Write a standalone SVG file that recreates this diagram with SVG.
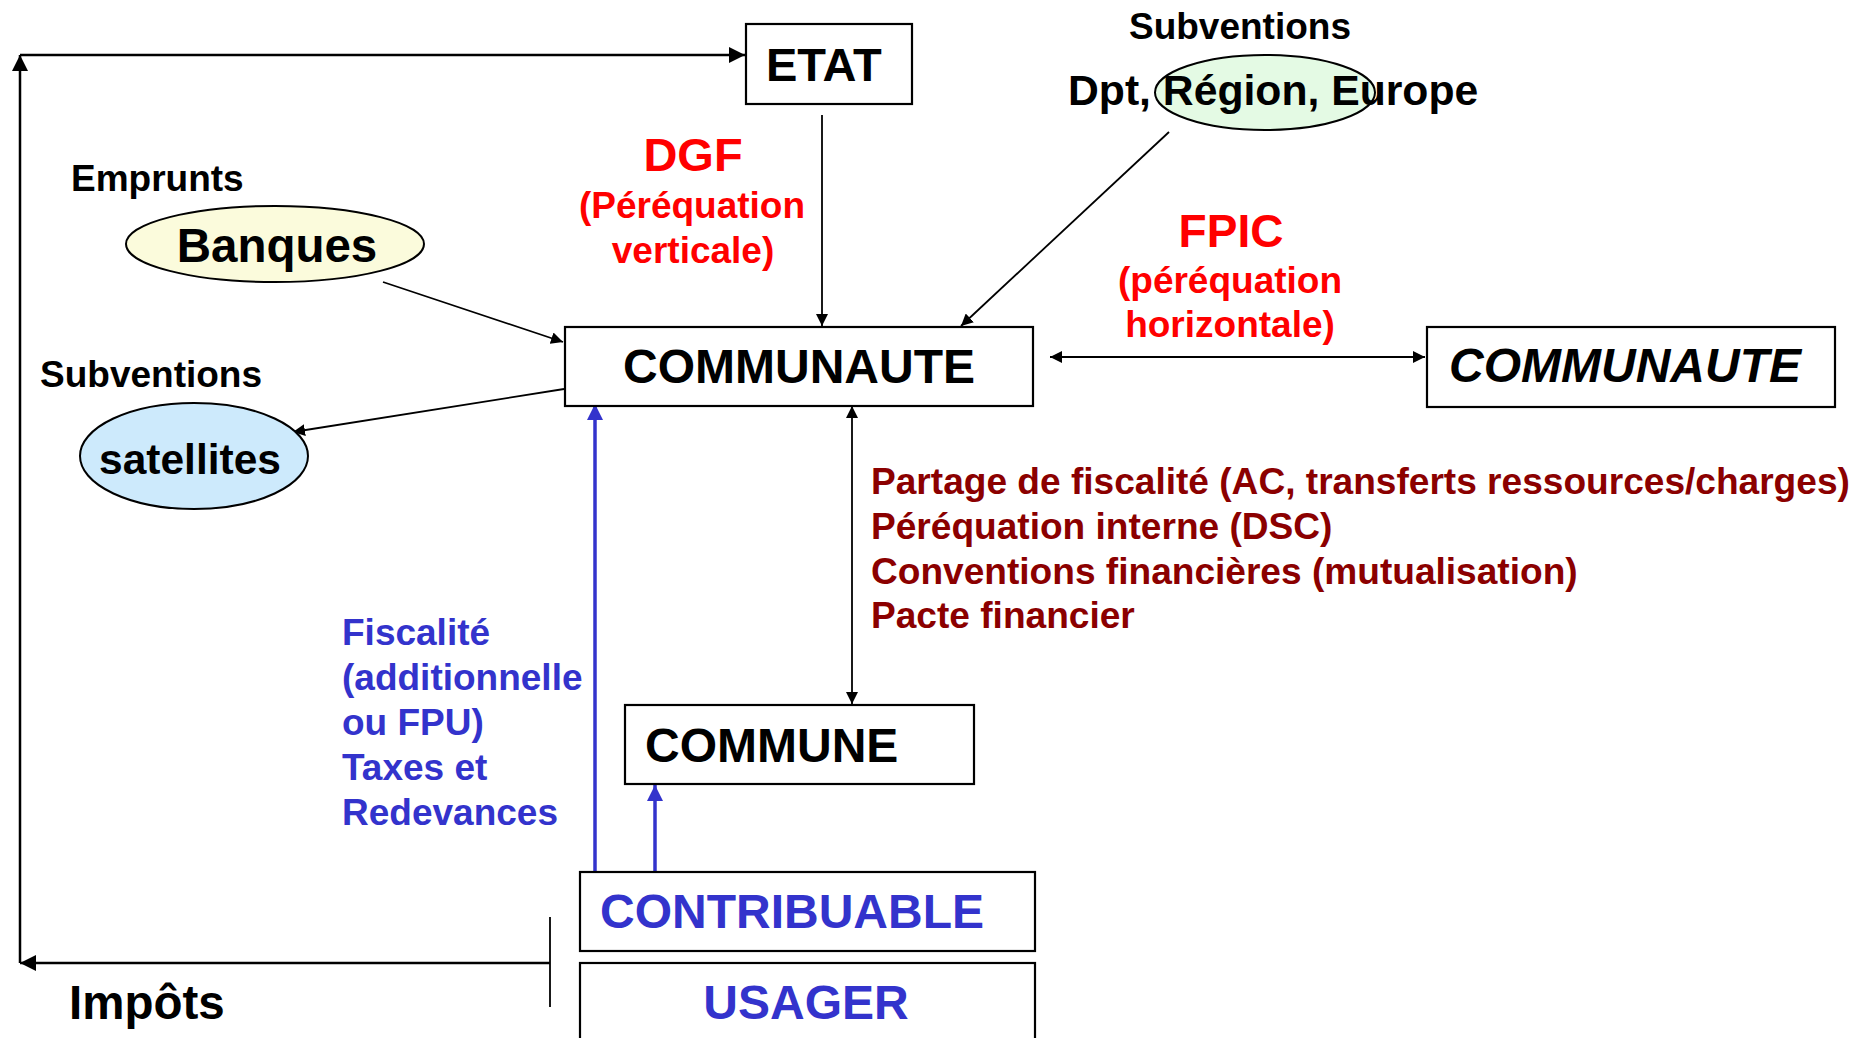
<svg xmlns="http://www.w3.org/2000/svg" width="1876" height="1038" viewBox="0 0 1876 1038">
<defs>
<style>
text{font-family:"Liberation Sans",Arial,sans-serif;font-weight:bold}
.box{fill:#fff;stroke:#000;stroke-width:2.2}
.k{fill:#000}
.red{fill:#ff0000}
.dred{fill:#8b0000}
.blue{fill:#3333cc}
.ln{stroke:#000;stroke-width:1.8;fill:none}
.lnb{stroke:#000;stroke-width:2.5;fill:none}
.bl{stroke:#3333cc;stroke-width:3.5;fill:none}
</style>
<marker id="aL" markerUnits="userSpaceOnUse" markerWidth="17" markerHeight="16" refX="16" refY="8" orient="auto-start-reverse"><path d="M0,0 L16,8 L0,16 Z" fill="#000"/></marker>
<marker id="aS" markerUnits="userSpaceOnUse" markerWidth="13" markerHeight="12" refX="12" refY="6" orient="auto-start-reverse"><path d="M0,0 L12,6 L0,12 Z" fill="#000"/></marker>
<marker id="aB" markerUnits="userSpaceOnUse" markerWidth="17" markerHeight="16" refX="16" refY="8" orient="auto-start-reverse"><path d="M0,0 L16,8 L0,16 Z" fill="#3333cc"/></marker>
</defs>
<rect width="1876" height="1038" fill="#fff"/>

<g id="connectors">
<line class="lnb" x1="20" y1="963" x2="20" y2="55" marker-end="url(#aL)"/>
<line class="lnb" x1="20" y1="55" x2="745" y2="55" marker-end="url(#aL)"/>
<line class="lnb" x1="550" y1="963" x2="20" y2="963" marker-end="url(#aL)"/>
<line class="ln" x1="550" y1="917" x2="550" y2="1007"/>
<line class="ln" x1="822" y1="115" x2="822" y2="326" marker-end="url(#aS)"/>
<line class="ln" x1="1169" y1="132" x2="961" y2="326" marker-end="url(#aS)"/>
<line class="ln" x1="383" y1="282" x2="563" y2="342" marker-end="url(#aS)"/>
<line class="ln" x1="564" y1="389" x2="293" y2="432" marker-end="url(#aS)"/>
<line class="ln" x1="1050" y1="357" x2="1425" y2="357" marker-start="url(#aS)" marker-end="url(#aS)"/>
<line class="ln" x1="852" y1="406" x2="852" y2="704" marker-start="url(#aS)" marker-end="url(#aS)"/>
<line class="bl" x1="595" y1="872" x2="595" y2="404" marker-end="url(#aB)"/>
<line class="bl" x1="655" y1="872" x2="655" y2="785" marker-end="url(#aB)"/>
</g>

<g id="etat">
<rect class="box" x="746" y="24" width="166" height="80"/>
<text class="k" x="766" y="81" font-size="47">ETAT</text>
</g>

<g id="dgf">
<text class="red" x="693" y="171" font-size="47" text-anchor="middle">DGF</text>
<text class="red" x="692" y="218" font-size="37" text-anchor="middle">(Péréquation</text>
<text class="red" x="693" y="263" font-size="37" text-anchor="middle">verticale)</text>
</g>

<g id="region">
<text class="k" x="1240" y="39" font-size="37" text-anchor="middle">Subventions</text>
<ellipse cx="1265" cy="92.5" rx="110" ry="37.5" fill="#e4fae4" stroke="#000" stroke-width="2"/>
<text class="k" x="1068" y="105" font-size="42.7">Dpt, Région, Europe</text>
</g>

<g id="banques">
<text class="k" x="71" y="191" font-size="37">Emprunts</text>
<ellipse cx="275" cy="244" rx="149" ry="38" fill="#fbfbdc" stroke="#000" stroke-width="2"/>
<text class="k" x="277" y="262" font-size="47.5" text-anchor="middle">Banques</text>
</g>

<g id="fpic">
<text class="red" x="1231" y="247" font-size="46" text-anchor="middle">FPIC</text>
<text class="red" x="1230" y="293" font-size="37" text-anchor="middle">(péréquation</text>
<text class="red" x="1230" y="337" font-size="37" text-anchor="middle">horizontale)</text>
</g>

<g id="communaute">
<rect class="box" x="565" y="327" width="468" height="79"/>
<text class="k" x="799" y="383" font-size="48" text-anchor="middle">COMMUNAUTE</text>
</g>

<g id="communaute2">
<rect class="box" x="1427" y="327" width="408" height="80"/>
<text class="k" x="1625" y="382" font-size="48" font-style="italic" text-anchor="middle">COMMUNAUTE</text>
</g>

<g id="satellites">
<text class="k" x="40" y="387" font-size="37">Subventions</text>
<ellipse cx="194" cy="456" rx="114" ry="53" fill="#cdeafc" stroke="#000" stroke-width="2"/>
<text class="k" x="190" y="474" font-size="42.5" text-anchor="middle">satellites</text>
</g>

<g id="relations">
<text class="dred" x="871" y="494" font-size="37.1">Partage de fiscalité (AC, transferts ressources/charges)</text>
<text class="dred" x="871" y="539" font-size="37.1">Péréquation interne (DSC)</text>
<text class="dred" x="871" y="584" font-size="37.1">Conventions financières (mutualisation)</text>
<text class="dred" x="871" y="628" font-size="37.1">Pacte financier</text>
</g>

<g id="fiscalite">
<text class="blue" x="342" y="645" font-size="37">Fiscalité</text>
<text class="blue" x="342" y="690" font-size="37">(additionnelle</text>
<text class="blue" x="342" y="735" font-size="37">ou FPU)</text>
<text class="blue" x="342" y="780" font-size="37">Taxes et</text>
<text class="blue" x="342" y="825" font-size="37">Redevances</text>
</g>

<g id="commune">
<rect class="box" x="625" y="705" width="349" height="79"/>
<text class="k" x="645" y="762" font-size="48">COMMUNE</text>
</g>

<g id="contribuable">
<rect class="box" x="580" y="872" width="455" height="79"/>
<text class="blue" x="600" y="928" font-size="48">CONTRIBUABLE</text>
</g>

<g id="usager">
<rect class="box" x="580" y="963" width="455" height="100"/>
<text class="blue" x="806" y="1019" font-size="48" text-anchor="middle">USAGER</text>
</g>

<g id="impots">
<text class="k" x="69" y="1019" font-size="47.5">Impôts</text>
</g>
</svg>
